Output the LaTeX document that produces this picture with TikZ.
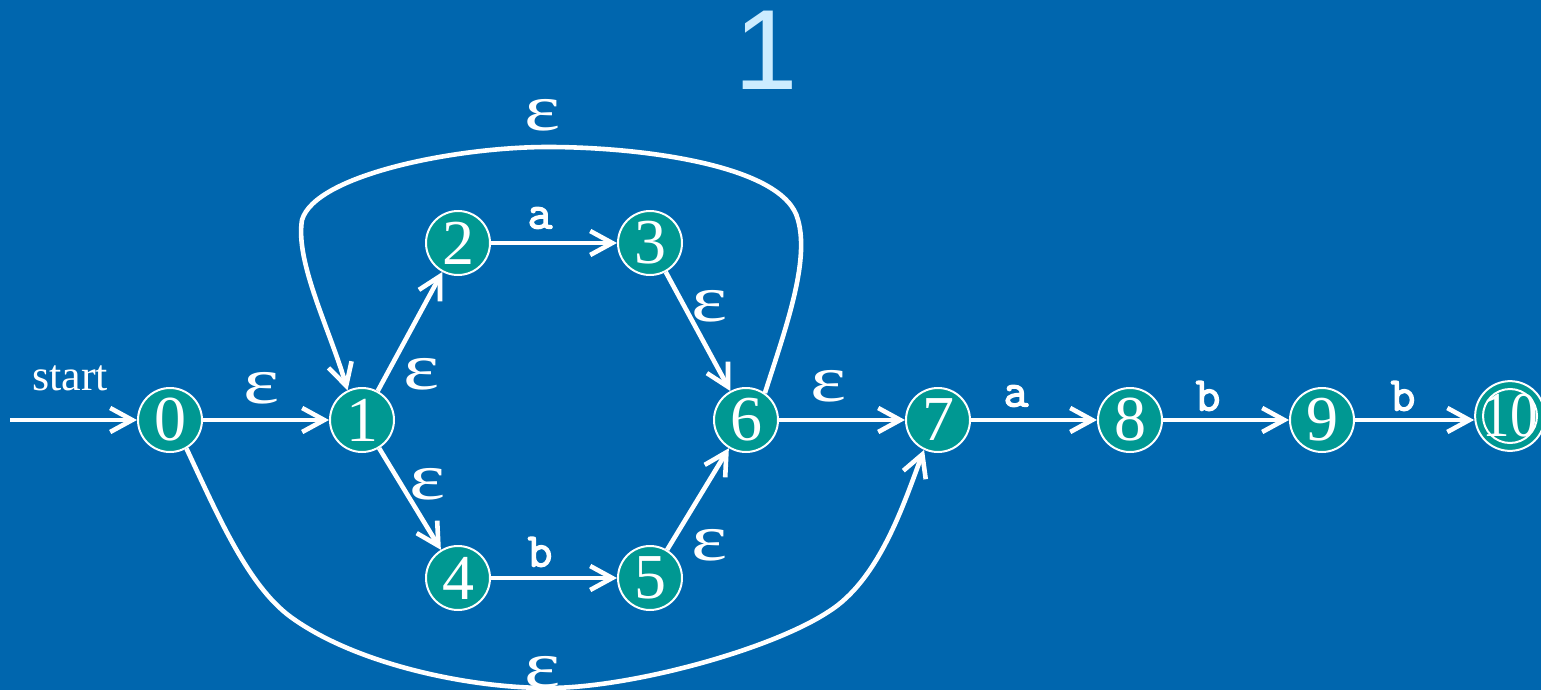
\documentclass[tikz,border=0pt]{standalone}
\usepackage{fontspec}
\setmainfont{Liberation Serif}
\newfontfamily\titlefont{Liberation Sans}
\newfontfamily\labelfont[FakeBold=3]{Latin Modern Mono}
\usetikzlibrary{arrows.meta}
\definecolor{bgblue}{RGB}{0,102,174}
\definecolor{teal}{RGB}{0,152,146}
\definecolor{titleblue}{RGB}{204,236,255}
\newcommand{\epsglyph}{\scalebox{1.3}[1]{ε}}
\tikzset{
  state/.style={circle, fill=teal, draw=white, line width=1pt, minimum size=32pt, inner sep=0pt, text=white, font=\fontsize{32}{32}\selectfont},
  edge/.style={draw=white, line width=2.3pt, -{Straight Barb[length=11pt,width=12pt]}},
  eps/.style={text=white, font=\fontsize{33}{33}\selectfont},
  sym/.style={text=white, font=\fontsize{24}{24}\selectfont\labelfont},
}
\begin{document}
\begin{tikzpicture}[x=0.5pt,y=-0.5pt]
\fill[bgblue] (0,0) rectangle (1541,690);
\useasboundingbox (0,0) rectangle (1541,690);
\node[text=titleblue, font=\fontsize{57}{57}\selectfont\titlefont] (title) at (766,50) {1};

\node[state] (n0) at (170,420) {0};
\node[state] (n1) at (362,420) {1};
\node[state] (n2) at (458,243) {2};
\node[state] (n3) at (650,243) {3};
\node[state] (n4) at (458,578) {4};
\node[state] (n5) at (650,578) {5};
\node[state] (n6) at (746,420) {6};
\node[state] (n7) at (938,420) {7};
\node[state] (n8) at (1130,420) {8};
\node[state] (n9) at (1322,420) {9};
\node[state] (n10) at (1510,416) {\scalebox{0.86}[1]{10}};
\draw[white, line width=1pt] (n10.center) circle (13.5pt);

\coordinate (s) at (10,420);
\node[text=white, font=\fontsize{22}{22}\selectfont] (startlbl) at (70,378) {start};
\draw[edge] (s) -- (n0);
\draw[edge] (n0) -- (n1);
\draw[edge] (n1) -- (n2);
\draw[edge] (n1) -- (n4);
\draw[edge] (n2) -- (n3);
\draw[edge] (n4) -- (n5);
\draw[edge] (n3) -- (n6);
\draw[edge] (n5) -- (n6);
\draw[edge] (n6) -- (n7);
\draw[edge] (n7) -- (n8);
\draw[edge] (n8) -- (n9);
\draw[edge] (n9) -- (n9 -| n10.west);

\draw[edge] (n6.55) .. controls (785,330) and (810,262) .. (798,220)
  .. controls (785,165) and (640,147) .. (548,147)
  .. controls (455,147) and (315,175) .. (302,220)
  .. controls (295,262) and (330,330) .. (n1.116);
\draw[edge] (n0.-60) .. controls (220,520) and (250,590) .. (295,620)
  .. controls (360,665) and (470,688) .. (548,688)
  .. controls (630,688) and (770,650) .. (828,612)
  .. controls (880,580) and (905,500) .. (n7.-115);

\node[eps] (e01) at (262,388) {\epsglyph};
\node[eps] (e12) at (422,374) {\epsglyph};
\node[eps] (e14) at (428,484) {\epsglyph};
\node[eps] (e36) at (710,306) {\epsglyph};
\node[eps] (e56) at (710,545) {\epsglyph};
\node[eps] (e67) at (829,386) {\epsglyph};
\node[eps] (etop) at (543,115) {\epsglyph};
\node[eps] (ebot) at (543,672) {\epsglyph};
\node[sym] (l23) at (540,218) {a};
\node[sym] (l45) at (540,552) {b};
\node[sym] (l78) at (1016,396) {a};
\node[sym] (l89) at (1208,396) {b};
\node[sym] (l910) at (1403,396) {b};
\end{tikzpicture}
\end{document}
